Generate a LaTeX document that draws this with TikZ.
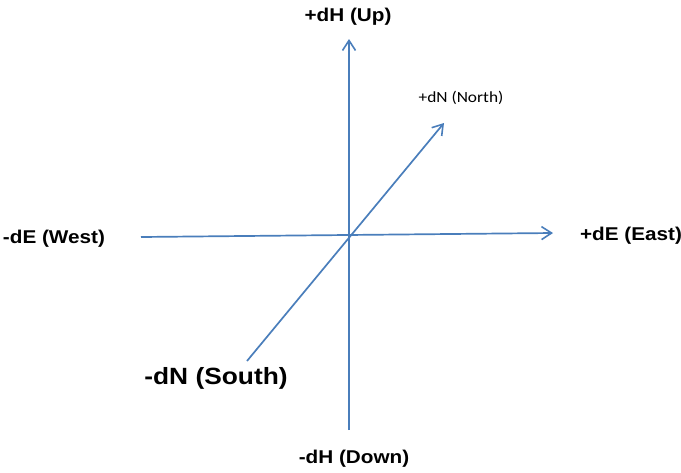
\documentclass[tikz,border=0pt]{standalone}
\usepackage{fontspec}
\setmainfont{Liberation Sans}
\newfontfamily\carl{Carlito}
\usetikzlibrary{arrows.meta}
\definecolor{axisblue}{HTML}{4A7EBB}
\tikzset{
  axis/.style={draw=axisblue, line width=1.7pt, -{Straight Barb[length=10pt,width=13pt,line width=1.6pt]}},
  lab/.style={inner sep=0pt, font=\fontsize{18.5}{20}\selectfont\bfseries, xscale=1.12, transform shape},
  biglab/.style={inner sep=0pt, font=\fontsize{23.5}{26}\selectfont\bfseries, xscale=1.12, transform shape},
  smalllab/.style={inner sep=0pt, font=\carl\fontsize{15.5}{17}\selectfont, xscale=1.12, transform shape}
}
\begin{document}
\begin{tikzpicture}[x=1pt,y=-1pt]
\useasboundingbox (0,0) rectangle (681,472);
\coordinate (htail) at (141,237);
\coordinate (htip) at (553,233);
\coordinate (vtail) at (349,430);
\coordinate (vtip) at (349,39);
\coordinate (dtail) at (247,361);
\coordinate (dtip) at (444,123);
\draw[axis] (htail) -- (htip);
\draw[axis] (vtail) -- (vtip);
\draw[axis] (dtail) -- (dtip);
\node[lab] (up) at (348,17) {+dH (Up)};
\node[lab] (down) at (354,459) {-dH (Down)};
\node[lab] (west) at (54,239) {-dE (West)};
\node[lab] (east) at (631,236) {+dE (East)};
\node[biglab] (south) at (216,378) {-dN (South)};
\node[smalllab] (north) at (461,98) {+dN (North)};
\end{tikzpicture}
\end{document}
